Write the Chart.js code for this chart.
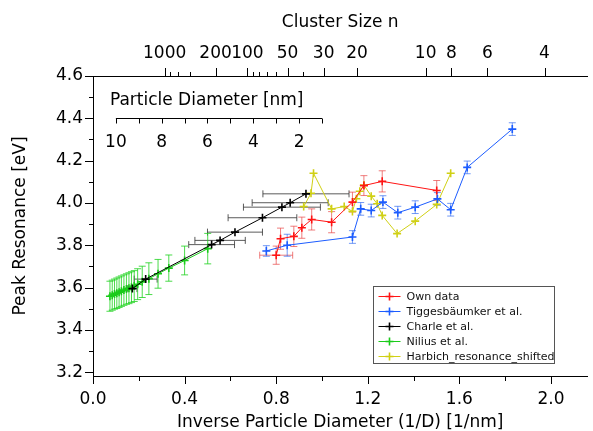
<!DOCTYPE html>
<html><head><meta charset="utf-8">
<script src="https://cdn.jsdelivr.net/npm/chart.js@4/dist/chart.umd.min.js"></script>
<style>html,body{margin:0;padding:0;background:#fff}#wrap{width:593px;height:431px;position:relative}</style>
</head><body><div id="wrap"><canvas id="c" width="593" height="431"></canvas></div>
<script>
// ---------- data ----------
const seriesNames = ['Own data','Tiggesbäumker et al.','Charle et al.','Nilius et al.','Harbich_resonance_shifted'];

const ownX    = [0.800,0.819,0.877,0.912,0.955,1.042,1.133,1.183,1.263,1.501];
const ownY    = [3.753,3.831,3.842,3.883,3.922,3.909,4.004,4.082,4.102,4.059];
const ownYErr = [0.043,0.050,0.048,0.050,0.050,0.050,0.047,0.047,0.050,0.047];
const ownXErr = [0.072,0,0,0,0,0,0,0,0,0];

const tigX    = [0.757,0.848,1.133,1.169,1.215,1.266,1.331,1.407,1.504,1.562,1.634,1.831];
const tigY    = [3.773,3.800,3.839,3.972,3.964,4.004,3.954,3.980,4.019,3.968,4.168,4.349];
const tigYErr = [0.025,0.052,0.030,0.030,0.030,0.030,0.030,0.030,0.030,0.030,0.030,0.030];

const chaX    = [0.172,0.230,0.518,0.555,0.620,0.740,0.825,0.861,0.930];
const chaY    = [3.595,3.640,3.803,3.823,3.862,3.930,3.980,4.001,4.043];
const chaXErr = [0.020,0.050,0.100,0.110,0.120,0.150,0.168,0.166,0.188];

const nilX    = [0.074,0.084,0.094,0.104,0.114,0.124,0.135,0.146,0.157,0.168,0.180,0.195,0.215,0.244,0.284,0.331,0.400,0.501];
const nilY    = [3.559,3.564,3.569,3.573,3.578,3.583,3.588,3.593,3.597,3.602,3.607,3.616,3.627,3.642,3.665,3.692,3.728,3.784];
const nilYErr = [0.071,0.071,0.071,0.072,0.072,0.072,0.072,0.072,0.073,0.073,0.073,0.073,0.074,0.075,0.068,0.062,0.068,0.072];

const harX    = [0.920,0.952,0.963,1.042,1.097,1.133,1.150,1.165,1.183,1.215,1.241,1.263,1.328,1.407,1.501,1.562];
const harY    = [3.983,4.046,4.140,3.972,3.983,3.960,4.020,4.055,4.085,4.032,3.996,3.941,3.855,3.914,3.993,4.140];

// axis ticks
const xTicks      = [0.0,0.2,0.4,0.6,0.8,1.0,1.2,1.4,1.6,1.8,2.0];
const xTickLabels = ['0.0','','0.4','','0.8','','1.2','','1.6','','2.0'];
const yTicks      = [3.2,3.3,3.4,3.5,3.6,3.7,3.8,3.9,4.0,4.1,4.2,4.3,4.4,4.5,4.6];
const yTickLabels = ['3.2','','3.4','','3.6','','3.8','','4.0','','4.2','','4.4','','4.6'];
const clusterLabeled = [1000,200,100,50,30,20,10,8,6,4];
const clusterMinor   = [800,600,400,90,80,70,60,40];
const INV_D_PER_N = 3.13;            // 1/D [1/nm] = 3.13 * n^(-1/3)
const diamLabeled = [10,8,6,4,2];
const diamMinor   = [9,7,5,3,1];

// ---------- helpers ----------
const FONT = '"DejaVu Sans", Verdana, sans-serif';
const pts = (xs, ys) => xs.map((x,i)=>({x:x, y:ys[i]}));

function mkSet(label, xs, ys, color, errColor, yErr, xErr){
  return {label, data: pts(xs,ys), showLine:true, borderColor:color, backgroundColor:color,
    borderWidth:1, pointStyle:'cross', pointRadius:4, pointBorderWidth:1.6, pointHoverRadius:4,
    errColor, yErr, xErr, tension:0};
}

const datasets = [
  mkSet(seriesNames[0], ownX, ownY, '#ff1414', 'rgba(232,70,70,0.7)', ownYErr, ownXErr),
  mkSet(seriesNames[1], tigX, tigY, '#1c5cff', 'rgba(40,100,240,0.65)', tigYErr, null),
  mkSet(seriesNames[2], chaX, chaY, '#000000', 'rgba(50,50,50,0.8)', null, chaXErr),
  mkSet(seriesNames[3], nilX, nilY, '#1acb1a', 'rgba(30,210,30,0.8)', nilYErr, null),
  mkSet(seriesNames[4], harX, harY, '#d0d014', null, null, null)
];

// ---------- plugins ----------
const errorBars = {
  id:'errorBars',
  beforeDatasetsDraw(chart){
    const ctx = chart.ctx, xs = chart.scales.x, ys = chart.scales.y, ca = chart.chartArea;
    const cap = 3.5;
    ctx.save();
    ctx.beginPath(); ctx.rect(ca.left, ca.top, ca.right-ca.left, ca.bottom-ca.top); ctx.clip();
    ctx.lineWidth = 1;
    chart.data.datasets.forEach((ds)=>{
      if(!ds.errColor) return;
      ctx.strokeStyle = ds.errColor;
      ds.data.forEach((p,i)=>{
        const px = xs.getPixelForValue(p.x), py = ys.getPixelForValue(p.y);
        ctx.beginPath();
        const ye = ds.yErr ? ds.yErr[i] : 0, xe = ds.xErr ? ds.xErr[i] : 0;
        if(ye > 0){
          const t = ys.getPixelForValue(p.y+ye), b = ys.getPixelForValue(p.y-ye);
          ctx.moveTo(px,t); ctx.lineTo(px,b);
          ctx.moveTo(px-cap,t); ctx.lineTo(px+cap,t);
          ctx.moveTo(px-cap,b); ctx.lineTo(px+cap,b);
        }
        if(xe > 0){
          const l = xs.getPixelForValue(p.x-xe), r = xs.getPixelForValue(p.x+xe);
          ctx.moveTo(l,py); ctx.lineTo(r,py);
          ctx.moveTo(l,py-cap); ctx.lineTo(l,py+cap);
          ctx.moveTo(r,py-cap); ctx.lineTo(r,py+cap);
        }
        ctx.stroke();
      });
    });
    ctx.restore();
  }
};

const tickMarks = {
  id:'tickMarks',
  afterDraw(chart){
    const ctx = chart.ctx;
    ctx.save(); ctx.strokeStyle='#000'; ctx.lineWidth=1;
    const xs = chart.scales.x, ys = chart.scales.y, x2 = chart.scales.x2;
    ctx.beginPath();
    xs.ticks.forEach(t=>{ const p=Math.round(xs.getPixelForValue(t.value))+0.5; const L = t.label? 8:5;
      ctx.moveTo(p, xs.top); ctx.lineTo(p, xs.top+L); });
    ys.ticks.forEach(t=>{ const p=Math.round(ys.getPixelForValue(t.value))+0.5; const L = t.label? 8:4;
      ctx.moveTo(ys.right, p); ctx.lineTo(ys.right-L, p); });
    x2.ticks.forEach(t=>{ const p=Math.round(x2.getPixelForValue(t.value))+0.5; const L = t.label? 8:4;
      ctx.moveTo(p, x2.bottom); ctx.lineTo(p, x2.bottom-L); });
    ctx.stroke();
    ctx.restore();
  }
};

const insetAxis = {
  id:'insetAxis',
  afterDraw(chart){
    const ctx = chart.ctx, xs = chart.scales.x, ys = chart.scales.y;
    const dToX = d => xs.getPixelForValue(1.1 - 0.1*d);
    const yLine = Math.round(ys.getPixelForValue(4.4))+0.5;
    ctx.save(); ctx.strokeStyle='#000'; ctx.fillStyle='#000'; ctx.lineWidth=1;
    ctx.beginPath();
    ctx.moveTo(dToX(10), yLine); ctx.lineTo(dToX(1), yLine);
    diamLabeled.concat(diamMinor).forEach(d=>{ const p=Math.round(dToX(d))+0.5; ctx.moveTo(p,yLine); ctx.lineTo(p,yLine+5); });
    ctx.stroke();
    ctx.font = '17px ' + FONT; ctx.textAlign='center'; ctx.textBaseline='middle';
    diamLabeled.forEach(d=>{ ctx.fillText(String(d), dToX(d), yLine+24); });
    ctx.textAlign='left';
    ctx.fillText('Particle Diameter [nm]', dToX(10)-6, yLine-18);
    ctx.restore();
  }
};

const boxLegend = {
  id:'boxLegend',
  afterDraw(chart){
    const ctx = chart.ctx;
    const x0 = 373.5, y0 = 286.5, w = 181, h = 77;
    ctx.save();
    ctx.fillStyle='#fff'; ctx.fillRect(x0,y0,w,h);
    ctx.strokeStyle='#555'; ctx.lineWidth=1; ctx.strokeRect(x0,y0,w,h);
    ctx.font = '11px ' + FONT; ctx.textBaseline='middle'; ctx.textAlign='left';
    chart.data.datasets.forEach((ds,i)=>{
      const yy = Math.round(y0 + 9 + i*15.1)+0.5;
      ctx.strokeStyle = ds.borderColor; ctx.lineWidth=1;
      ctx.beginPath(); ctx.moveTo(x0+5,yy); ctx.lineTo(x0+27,yy); ctx.stroke();
      ctx.lineWidth=1.6;
      ctx.beginPath(); ctx.moveTo(x0+16,yy-4); ctx.lineTo(x0+16,yy+4); ctx.moveTo(x0+12,yy); ctx.lineTo(x0+20,yy); ctx.stroke();
      ctx.fillStyle='#111';
      ctx.fillText(ds.label, x0+33, yy+0.5);
    });
    ctx.restore();
  }
};

// ---------- chart ----------
const axisFont = {family: FONT, size: 17};
const titleFont = {family: FONT, size: 17};
const bottomTitleFont = {family: FONT, size: 17, lineHeight: 1.0};
const clusterTicks = clusterLabeled.map(n=>({value: INV_D_PER_N/Math.cbrt(n), lab: String(n)}))
  .concat(clusterMinor.map(n=>({value: INV_D_PER_N/Math.cbrt(n), lab: ''})));

new Chart(document.getElementById('c'), {
  type:'scatter',
  data:{datasets},
  options:{
    responsive:false, animation:false,
    layout:{padding:{left:0,right:2,top:0,bottom:0}},
    plugins:{legend:{display:false}, tooltip:{enabled:false}},
    scales:{
      x:{type:'linear', position:'bottom', min:0, max:2.159,
        afterBuildTicks: s=>{ s.ticks = xTicks.map(v=>({value:v})); },
        afterFit: s=>{ s.height = 55; },
        ticks:{autoSkip:false, maxRotation:0, padding:13, color:'#000', font:axisFont,
          callback:(v,i)=>xTickLabels[i]},
        grid:{display:true, drawOnChartArea:false, drawTicks:false},
        border:{display:true, color:'#000', width:1},
        title:{display:true, text:'Inverse Particle Diameter (1/D) [1/nm]', color:'#000', font:bottomTitleFont, padding:{top:0,bottom:0}}
      },
      x2:{type:'linear', axis:'x', position:'top', min:0, max:2.159,
        afterBuildTicks: s=>{ s.ticks = clusterTicks.map(t=>({value:t.value, lab:t.lab})); },
        afterFit: s=>{ s.height = 76; },
        ticks:{autoSkip:false, maxRotation:0, padding:12, color:'#000', font:axisFont,
          callback:(v,i,t)=>t[i].lab},
        grid:{display:true, drawOnChartArea:false, drawTicks:false},
        border:{display:true, color:'#000', width:1},
        title:{display:true, text:'Cluster Size n', color:'#000', font:titleFont, padding:{top:12,bottom:0}}
      },
      y:{type:'linear', position:'left', min:3.182, max:4.6,
        afterBuildTicks: s=>{ s.ticks = yTicks.map(v=>({value:v})); },
        afterFit: s=>{ s.width = 93; },
        ticks:{autoSkip:false, padding:10, color:'#000', font:axisFont,
          callback:(v,i)=>yTickLabels[i]},
        grid:{display:true, drawOnChartArea:false, drawTicks:false},
        border:{display:true, color:'#000', width:1},
        title:{display:true, text:'Peak Resonance [eV]', color:'#000', font:titleFont, padding:{top:10,bottom:0}}
      }
    }
  },
  plugins:[errorBars, tickMarks, insetAxis, boxLegend]
});
</script>
</body></html>
